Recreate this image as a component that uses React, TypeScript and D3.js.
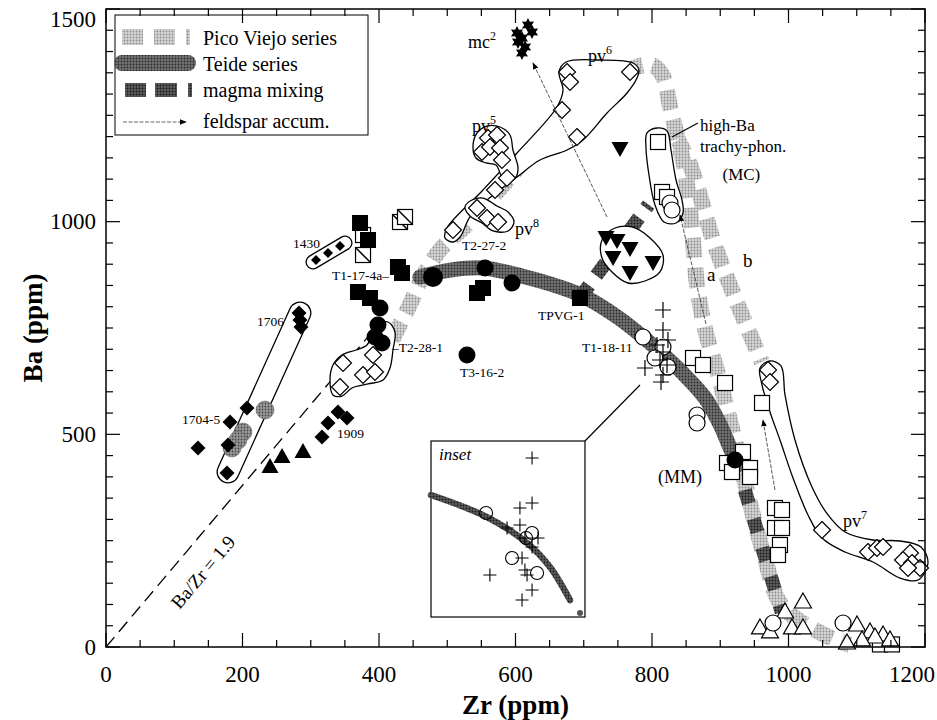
import React from "react";
import * as d3 from "d3";

type P = [number, number];

// ---------- axes ----------
const xMajorTicks = [0, 200, 400, 600, 800, 1000, 1200];
const yMajorTicks = [0, 500, 1000, 1500];

// ---------- trend bands (Zr, Ba) ----------
const picoViejoBand: P[] = [[419,722],[445,804],[464,870],[489,933],[504,957],[540,1010],[600,1120],[660,1230],[720,1320],[770,1360],[800,1368],[816,1342],[826,1274],[838,1192],[847,1133],[854,1051],[860,957],[866,851],[878,745],[895,651],[914,534],[932,416],[946,322],[966,205],[985,110],[1010,68],[1039,40],[1068,17],[1090,5]];
const picoViejoBranchB: P[] = [[838,1192],[856,1133],[892,945],[929,792],[961,670]];
const teideBand: P[] = [[460,870],[504,886],[552,891],[626,865],[699,825],[749,776],[797,715],[845,644],[878,585],[900,522],[914,470],[926,428]];
const mixingToMC: P[] = [[694,820],[795,1040]];
const mixingLower: P[] = [[936,369],[990,82]];
const baZrLine: P[] = [[0,0],[390,741]];

// ---------- outlines ----------
const pvChainOutline: P[] = [[496.7,961.6],[499.6,985.1],[552.4,1074.5],[602.2,1161.4],[660.8,1269.6],[669.6,1309.6],[663.7,1351.9],[674,1375.4],[723.8,1380.1],[772.2,1373.1],[780.9,1356.6],[778,1337.8],[763.4,1302.5],[734.1,1255.5],[698.9,1192],[675.5,1168.5],[635.9,1145],[602.2,1105],[558.2,1050.9],[533.3,1011],[518.7,963.9],[508.4,952.2]];
const pv5Outline: P[] = [[537.7,1175.6],[543.6,1208.5],[558.2,1224.9],[577.3,1222.6],[591.9,1203.8],[596.3,1168.5],[603.7,1126.2],[599.3,1102.7],[581.7,1102.7],[571.4,1133.3],[556.8,1138],[542.1,1149.7]];
const pv8Outline: P[] = [[526,1034.5],[536.3,1050.9],[552.4,1055.6],[572.9,1036.8],[589,1022.7],[597.8,999.2],[589,978.1],[567,978.1],[550.9,996.9],[533.3,1013.3]];
const lowerPvOutline: P[] = [[332.6,592.5],[328.2,627.8],[332.6,663],[345.8,686.5],[366.3,698.3],[382.4,710],[389.7,733.6],[398.5,757.1],[413.2,764.1],[423.4,740.6],[420.5,698.3],[416.1,656],[405.9,627.8],[383.9,618.4],[360.4,609],[345.8,590.1]];
const mcOutline: P[] = [[792.7,1208.5],[807.3,1220.2],[822,1213.2],[827.8,1168.5],[835.2,1098],[843.9,1051],[845.4,1020.4],[835.2,996.9],[817.6,999.2],[804.4,1039.2],[795.6,1109.7],[791.2,1173.2]];
const triangleOutline: P[] = [[726.7,956.9],[745.8,985.1],[770.7,987.5],[797.1,961.6],[816.1,921.6],[811.7,881.7],[789.7,860.5],[764.8,855.8],[741.4,881.7],[726.7,914.6]];
const pv7Outline: P[] = [[958.2,656],[972.9,672.4],[989,660.7],[994.9,592.5],[1009.5,486.7],[1034.4,376.2],[1057.9,310.4],[1082.8,270.4],[1123.8,251.6],[1163.4,249.2],[1194.1,235.1],[1204.4,197.5],[1189.7,157.5],[1163.4,162.2],[1123.8,199.8],[1082.8,223.4],[1049.1,256.3],[1028.6,310.4],[1006.6,397.3],[987.5,486.7],[972.9,552.5],[961.2,616]];
const capsule1430: P[] = [[303.3,905.2],[350.2,949.9]];
const capsule1706: P[] = [[284.2,785.3],[178.8,411.4]];

// ---------- samples ----------
const blackDiamonds: P[] = [[282.8,785.3],[284.2,768.8],[285.7,752.4],[206.6,561.9],[181.7,529],[178.8,474.9],[177.3,409.1],[134.8,467.9],[316.5,493.7],[325.3,526.6],[339.9,552.5],[353.1,538.4]];
const smallBlackDiamonds1430: P[] = [[307.7,909.9],[325.3,926.3],[342.9,942.8]];
const grayCircles: P[] = [[233,557.2],[200.7,505.5],[193.4,486.7],[184.6,467.9]];
const blackTriangles: P[] = [[240.3,423.2],[257.9,446.7],[288.6,458.5]];
const blackSquares: P[] = [[372.2,996.9],[383.9,956.9],[427.8,893.4],[433.7,879.3],[369.2,834.6],[386.8,820.5],[543.6,832.3],[552.4,844.1],[694.5,820.5]];
const halfSquares: P[] = [[376.6,921.6],[430.8,999.2],[438.1,1011]];
const blackCircles: P[] = [[401.5,797],[398.5,757.1],[394.1,728.8],[404.4,714.7],[479.1,869.9],[555.3,891.1],[594.9,855.8],[528.9,686.5],[921.6,439.7]];
const blackDownTriangles: P[] = [[753.1,1173.2],[748.7,956.9],[767.8,938.1],[742.9,916.9],[767.8,881.7],[801.5,905.2],[732.6,963.9]];
const mcStars: P[] = [[618.3,1462.4],[624.2,1445.9],[602.2,1443.6],[609.5,1431.8],[603.7,1422.4],[614,1410.7],[609.5,1396.6]];
const openDiamonds: P[] = [[508.4,980.4],[543.6,1032.2],[558.2,1008.6],[574.4,999.2],[570,1074.5],[587.5,1102.7],[668.1,1262.6],[690.1,1199.1],[675.5,1351.9],[679.9,1328.4],[767.8,1351.9],[559.7,1196.7],[572.9,1203.8],[550.9,1163.8],[562.6,1175.6],[577.3,1173.2],[580.2,1145],[347.3,667.7],[376.6,639.5],[394.1,646.6],[342.9,611.3],[391.2,686.5],[970,651.3],[972.9,623],[1049.1,275.1],[1116.5,223.4],[1129.7,232.8],[1138.5,235.1],[1178,221],[1167.8,204.5],[1181,197.5],[1192.7,185.7],[1175.1,185.7]];
const crosses: P[] = [[816.1,792.3],[816.1,745.3],[823.4,721.8],[807.3,710],[816.1,693.6],[789.7,656],[811.7,674.8],[822,663],[816.1,639.5],[813.2,623]];
const openCircles: P[] = [[786.8,728.8],[816.1,705.3],[804.4,679.5],[823.4,658.3],[866,545.5],[866,526.6],[977.3,56.4],[1079.9,56.4],[826.4,1043.9],[829.3,1027.4]];
const openSquares: P[] = [[376.6,968.6],[860.1,679.5],[874.7,663],[907,620.7],[933.3,458.5],[909.9,432.6],[917.2,411.4],[943.6,420.8],[943.6,399.7],[961.2,573.7],[980.2,326.8],[990.5,322.1],[980.2,279.8],[990.5,279.8],[987.5,239.8],[984.6,216.3],[808.8,1187.3],[814.7,1069.8],[822,1058],[1134,6],[1151.6,6]];
const openTriangles: P[] = [[1021.2,105.8],[994.9,82.3],[958.2,44.7],[972.9,35.3],[1005.1,44.7],[1021.2,44.7],[1100.4,51.7],[1119.4,35.3],[1138.5,28.2],[1126.7,23.5],[1085.7,9.4],[1148.7,16.5],[1107.7,16.5]];

// feldspar accumulation vectors [from, to]
const feldsparArrows: [P, P][] = [
  [[734.1,1011],[625.6,1373.1]],
  [[879.1,759.4],[841,1015.7]],
  [[980.2,369.1],[962.6,533.7]],
];

// ---------- inset ----------
const insetBox: P[] = [[476.2,484.3],[701.8,70.5]];
const insetLeader: P[] = [[701.8,484.3],[782.4,616]];
const insetZrDomain = [770, 850];
const insetBaDomain = [600, 800];
const insetCurve: P[] = [[770,738.6],[799.1,713.6],[819.9,684.1],[831.8,656.8],[842.2,619.3]];
const insetDot: P = [847.4,604.5];
const insetCrosses: P[] = [[822.5,780.7],[822.5,729.5],[816.2,723.9],[816.2,704.5],[809.5,701.1],[825.6,689.8],[822.5,679.5],[817.3,667],[818.8,653.4],[800.6,647.7],[819.9,647.7],[822.5,630.7],[817.3,619.3],[818.8,689.8]];
const insetCircles: P[] = [[798.6,718.2],[822.5,695.5],[819.4,689.8],[812.1,667],[825.1,650]];

// ---------- annotations ----------
const smallLabels: { t: string; at: P }[] = [
  { t: "1430", at: [274, 938.1] },
  { t: "T1-17-4a\u2013", at: [331.1, 862.9] },
  { t: "1706", at: [221.2, 754.7] },
  { t: "\u2013T2-28-1", at: [419, 693.6] },
  { t: "1704-5", at: [111.4, 524.3] },
  { t: "1909", at: [338.5, 491.4] },
  { t: "TPVG-1", at: [633, 768.8] },
  { t: "T1-18-11", at: [697.4, 693.6] },
  { t: "T3-16-2", at: [518.7, 634.8] },
  { t: "T2-27-2", at: [521.6, 933.4] },
];
const supLabels: { base: string; sup: string; at: P }[] = [
  { base: "pv", sup: "6", at: [706.2, 1375.4] },
  { base: "pv", sup: "5", at: [536.3, 1210.8] },
  { base: "pv", sup: "8", at: [599.3, 968.6] },
  { base: "pv", sup: "7", at: [1079.9, 282.1] },
  { base: "mc", sup: "2", at: [530.4, 1408.3] },
];
const midLabels: { t: string; at: P; size: number }[] = [
  { t: "(MM)", at: [808.8, 385.6], size: 18 },
  { t: "a", at: [880.6, 860.5], size: 19 },
  { t: "b", at: [933.3, 893.4], size: 19 },
  { t: "high-Ba", at: [870.3, 1213.2], size: 17 },
  { t: "trachy-phon.", at: [870.3, 1163.8], size: 17 },
  { t: "(MC)", at: [903.3, 1098], size: 17 },
];
const mcLeader: P[] = [[829.3,1199.1],[867.4,1232]];
const ratioLabelAt: P = [142.1, 176.3];

const legendItems = ["Pico Viejo series", "Teide series", "magma mixing", "feldspar accum."];

const FONT = "'Liberation Serif','Times New Roman',serif";

function diamond(cx: number, cy: number, r: number) {
  return `M${cx},${cy - r}L${cx + r},${cy}L${cx},${cy + r}L${cx - r},${cy}Z`;
}
function triUp(cx: number, cy: number, w: number) {
  const h = w * 0.88;
  return `M${cx},${cy - h * 0.6}L${cx + w / 2},${cy + h * 0.4}L${cx - w / 2},${cy + h * 0.4}Z`;
}
function triDown(cx: number, cy: number, w: number) {
  const h = w * 0.88;
  return `M${cx},${cy + h * 0.6}L${cx + w / 2},${cy - h * 0.4}L${cx - w / 2},${cy - h * 0.4}Z`;
}
function star6(cx: number, cy: number, ro: number, ri: number) {
  const pts: string[] = [];
  for (let i = 0; i < 12; i++) {
    const a = (Math.PI / 6) * i - Math.PI / 2;
    const r = i % 2 === 0 ? ro : ri;
    pts.push(`${cx + r * Math.cos(a)},${cy + r * Math.sin(a)}`);
  }
  return "M" + pts.join("L") + "Z";
}
function cross(cx: number, cy: number, r: number) {
  return `M${cx - r},${cy}L${cx + r},${cy}M${cx},${cy - r}L${cx},${cy + r}`;
}

export default function App() {
  const x = d3.scaleLinear().domain([0, 1200]).range([106, 925]);
  const y = d3.scaleLinear().domain([0, 1500]).range([647, 9]);
  const smooth = d3.line<P>().x((d) => x(d[0])).y((d) => y(d[1])).curve(d3.curveCatmullRom.alpha(0.5));
  const closed = d3.line<P>().x((d) => x(d[0])).y((d) => y(d[1])).curve(d3.curveCatmullRomClosed.alpha(0.5));
  const straight = d3.line<P>().x((d) => x(d[0])).y((d) => y(d[1]));

  const ibx0 = x(insetBox[0][0]), ibx1 = x(insetBox[1][0]);
  const iby0 = y(insetBox[0][1]), iby1 = y(insetBox[1][1]);
  const ix = d3.scaleLinear().domain(insetZrDomain).range([ibx0, ibx1]);
  const iy = d3.scaleLinear().domain(insetBaDomain).range([iby1, iby0]);
  const insetLine = d3.line<P>().x((d) => ix(d[0])).y((d) => iy(d[1])).curve(d3.curveCatmullRom.alpha(0.5));

  const xTicks = d3.range(0, 1201, 50);
  const yTicks = d3.range(0, 1501, 50);
  const X0 = x(0), X1 = x(1200), Y0 = y(0), Y1 = y(1500);

  const ratioAngle = (Math.atan2(y(baZrLine[1][1]) - y(0), x(baZrLine[1][0]) - x(0)) * 180) / Math.PI;

  return (
    <svg width={937} height={720} style={{ position: "absolute", left: 0, top: 0, background: "#fff" }} fontFamily={FONT}>
      <defs>
        <pattern id="pvDots" width="3" height="3" patternUnits="userSpaceOnUse">
          <rect width="3" height="3" fill="#d6d6d6" />
          <circle cx="1.5" cy="1.5" r="0.9" fill="#8c8c8c" />
        </pattern>
        <pattern id="teideDots" width="3" height="3" patternUnits="userSpaceOnUse">
          <rect width="3" height="3" fill="#727272" />
          <circle cx="1.5" cy="1.5" r="0.9" fill="#2a2a2a" />
        </pattern>
        <pattern id="mixDots" width="3" height="3" patternUnits="userSpaceOnUse">
          <rect width="3" height="3" fill="#5e5e5e" />
          <circle cx="1.5" cy="1.5" r="1" fill="#1c1c1c" />
        </pattern>
        <pattern id="grayDots" width="3" height="3" patternUnits="userSpaceOnUse">
          <rect width="3" height="3" fill="#9a9a9a" />
          <circle cx="1.5" cy="1.5" r="0.9" fill="#444" />
        </pattern>
        <marker id="ah" viewBox="0 0 10 10" refX="9" refY="5" markerWidth="7" markerHeight="7" markerUnits="userSpaceOnUse" orient="auto">
          <path d="M0,1L10,5L0,9Z" fill="#000" />
        </marker>
      </defs>

      {/* bands */}
      <path d={smooth(picoViejoBand) || ""} fill="none" stroke="url(#pvDots)" strokeWidth={16} strokeDasharray="20 10" />
      <path d={smooth(picoViejoBranchB) || ""} fill="none" stroke="url(#pvDots)" strokeWidth={16} strokeDasharray="20 10" strokeDashoffset={6} />
      <path d={smooth(teideBand) || ""} fill="none" stroke="url(#teideDots)" strokeWidth={15} strokeLinecap="round" />
      <path d={straight(mixingToMC) || ""} fill="none" stroke="url(#mixDots)" strokeWidth={14} strokeDasharray="16 12" />
      <path d={straight(mixingLower) || ""} fill="none" stroke="url(#mixDots)" strokeWidth={14} strokeDasharray="14 16" />

      {/* Ba/Zr = 1.9 */}
      <path d={straight(baZrLine) || ""} fill="none" stroke="#000" strokeWidth={1.3} strokeDasharray="13 7" />

      {/* outlines */}
      {[pvChainOutline, pv5Outline, pv8Outline, lowerPvOutline, mcOutline, triangleOutline, pv7Outline].map((o, i) => (
        <path key={i} d={closed(o) || ""} fill="#fff" stroke="#000" strokeWidth={1.3} />
      ))}
      <path d={straight(capsule1430) || ""} stroke="#000" strokeWidth={15} strokeLinecap="round" fill="none" />
      <path d={straight(capsule1430) || ""} stroke="#fff" strokeWidth={12.4} strokeLinecap="round" fill="none" />
      <path d={straight(capsule1706) || ""} stroke="#000" strokeWidth={23} strokeLinecap="round" fill="none" />
      <path d={straight(capsule1706) || ""} stroke="#fff" strokeWidth={20.4} strokeLinecap="round" fill="none" />

      {/* markers */}
      {grayCircles.map((d, i) => (
        <circle key={"gc" + i} cx={x(d[0])} cy={y(d[1])} r={9} fill="url(#grayDots)" stroke="#666" strokeWidth={0.6} />
      ))}
      {blackDiamonds.map((d, i) => (
        <path key={"bd" + i} d={diamond(x(d[0]), y(d[1]), 7.5)} fill="#000" />
      ))}
      {smallBlackDiamonds1430.map((d, i) => (
        <path key={"sbd" + i} d={diamond(x(d[0]), y(d[1]), 5)} fill="#000" />
      ))}
      {blackTriangles.map((d, i) => (
        <path key={"bt" + i} d={triUp(x(d[0]), y(d[1]), 17)} fill="#000" />
      ))}
      {openSquares.map((d, i) => (
        <rect key={"os" + i} x={x(d[0]) - 7.5} y={y(d[1]) - 7.5} width={15} height={15} fill="#fff" stroke="#000" strokeWidth={1.2} />
      ))}
      {halfSquares.map((d, i) => (
        <g key={"hs" + i}>
          <rect x={x(d[0]) - 7.5} y={y(d[1]) - 7.5} width={15} height={15} fill="#fff" stroke="#000" strokeWidth={1.2} />
          <path d={`M${x(d[0]) - 7.5},${y(d[1]) - 7.5}L${x(d[0]) + 7.5},${y(d[1]) + 7.5}`} stroke="#000" strokeWidth={1.5} />
        </g>
      ))}
      {blackSquares.map((d, i) => (
        <rect key={"bs" + i} x={x(d[0]) - 8} y={y(d[1]) - 8} width={16} height={16} fill="#000" />
      ))}
      {blackCircles.map((d, i) => (
        <circle key={"bc" + i} cx={x(d[0])} cy={y(d[1])} r={i === 4 ? 10 : 8.5} fill="#000" />
      ))}
      {blackDownTriangles.map((d, i) => (
        <path key={"bdt" + i} d={triDown(x(d[0]), y(d[1]), 17)} fill="#000" />
      ))}
      {mcStars.map((d, i) => (
        <path key={"st" + i} d={star6(x(d[0]), y(d[1]), 7, 3.8)} fill="#000" />
      ))}
      {openDiamonds.map((d, i) => (
        <path key={"od" + i} d={diamond(x(d[0]), y(d[1]), 8.5)} fill="#fff" stroke="#000" strokeWidth={1.2} />
      ))}
      {openTriangles.map((d, i) => (
        <path key={"ot" + i} d={triUp(x(d[0]), y(d[1]), 17)} fill="#fff" stroke="#000" strokeWidth={1.2} />
      ))}
      {openCircles.map((d, i) => (
        <circle key={"oc" + i} cx={x(d[0])} cy={y(d[1])} r={8} fill="#fff" stroke="#000" strokeWidth={1.2} />
      ))}
      {crosses.map((d, i) => (
        <path key={"cr" + i} d={cross(x(d[0]), y(d[1]), 8)} stroke="#000" strokeWidth={1.2} fill="none" />
      ))}

      {/* feldspar accumulation */}
      {feldsparArrows.map((a, i) => (
        <path key={"fa" + i} d={straight(a) || ""} stroke="#444" strokeWidth={0.9} strokeDasharray="4 1.5" fill="none" markerEnd="url(#ah)" />
      ))}

      {/* MC leader */}
      <path d={straight(mcLeader) || ""} stroke="#000" strokeWidth={1.2} fill="none" />

      {/* labels */}
      {smallLabels.map((l, i) => (
        <text key={"sl" + i} x={x(l.at[0])} y={y(l.at[1])} fontSize={13.5}>{l.t}</text>
      ))}
      {supLabels.map((l, i) => (
        <text key={"sup" + i} x={x(l.at[0])} y={y(l.at[1])} fontSize={18}>
          {l.base}
          <tspan fontSize={12} dy={-8}>{l.sup}</tspan>
        </text>
      ))}
      {midLabels.map((l, i) => (
        <text key={"ml" + i} x={x(l.at[0])} y={y(l.at[1])} fontSize={l.size}>{l.t}</text>
      ))}
      <text transform={`translate(${x(ratioLabelAt[0])},${y(ratioLabelAt[1])}) rotate(${ratioAngle})`} textAnchor="middle" dominantBaseline="central" fontSize={19}>
        Ba/Zr = 1.9
      </text>

      {/* inset */}
      <path d={straight(insetLeader) || ""} stroke="#000" strokeWidth={1.2} />
      <rect x={ibx0} y={iby0} width={ibx1 - ibx0} height={iby1 - iby0} fill="#fff" stroke="#000" strokeWidth={1.2} />
      <text x={ibx0 + 8} y={iby0 + 19} fontSize={17} fontStyle="italic">inset</text>
      <path d={insetLine(insetCurve) || ""} fill="none" stroke="url(#mixDots)" strokeWidth={6.5} strokeLinecap="round" />
      <circle cx={ix(insetDot[0])} cy={iy(insetDot[1])} r={3} fill="#555" />
      {insetCircles.map((d, i) => (
        <circle key={"ic" + i} cx={ix(d[0])} cy={iy(d[1])} r={6.5} fill="none" stroke="#000" strokeWidth={1.1} />
      ))}
      {insetCrosses.map((d, i) => (
        <path key={"ix" + i} d={cross(ix(d[0]), iy(d[1]), 6.5)} stroke="#000" strokeWidth={1.1} fill="none" />
      ))}

      {/* legend */}
      <g>
        <rect x={115} y={15} width={253} height={120} fill="#fff" stroke="#000" strokeWidth={1} />
        <path d="M122,37L190,37" stroke="url(#pvDots)" strokeWidth={16} strokeDasharray="21 11 21 11 4 40" />
        <path d="M122,63L188,63" stroke="url(#teideDots)" strokeWidth={16} strokeLinecap="round" />
        <path d="M125,90L193,90" stroke="url(#mixDots)" strokeWidth={14} strokeDasharray="21 9 22 11 4 40" />
        <path d="M123,122L186,122" stroke="#555" strokeWidth={0.9} strokeDasharray="4 1.5" markerEnd="url(#ah)" />
        {legendItems.map((t, i) => (
          <text key={"lg" + i} x={203} y={[45, 71, 97, 128][i]} fontSize={20}>{t}</text>
        ))}
      </g>

      {/* frame and ticks */}
      <rect x={X0} y={Y1} width={X1 - X0} height={Y0 - Y1} fill="none" stroke="#000" strokeWidth={1.5} />
      {xTicks.map((t) => {
        const len = t % 200 === 0 ? 14 : 7;
        return (
          <g key={"xt" + t}>
            <line x1={x(t)} x2={x(t)} y1={Y0} y2={Y0 - len} stroke="#000" strokeWidth={1.2} />
            <line x1={x(t)} x2={x(t)} y1={Y1} y2={Y1 + len} stroke="#000" strokeWidth={1.2} />
          </g>
        );
      })}
      {yTicks.map((t) => {
        const len = t % 500 === 0 ? 14 : 7;
        return (
          <g key={"yt" + t}>
            <line x1={X0} x2={X0 + len} y1={y(t)} y2={y(t)} stroke="#000" strokeWidth={1.2} />
            <line x1={X1} x2={X1 - len} y1={y(t)} y2={y(t)} stroke="#000" strokeWidth={1.2} />
          </g>
        );
      })}
      {xMajorTicks.map((t) => (
        <text key={"xl" + t} x={t === 1200 ? 935 : x(t)} y={682} fontSize={23} textAnchor={t === 1200 ? "end" : "middle"}>{t}</text>
      ))}
      {yMajorTicks.map((t) => (
        <text key={"yl" + t} x={96} y={Math.max(y(t), 19)} fontSize={23} textAnchor="end" dominantBaseline="central">{t}</text>
      ))}
      <text x={(X0 + X1) / 2} y={714} fontSize={27} fontWeight="bold" textAnchor="middle">Zr (ppm)</text>
      <text transform={`translate(33,${(Y0 + Y1) / 2}) rotate(-90)`} fontSize={27} fontWeight="bold" textAnchor="middle" dominantBaseline="central">Ba (ppm)</text>
    </svg>
  );
}
